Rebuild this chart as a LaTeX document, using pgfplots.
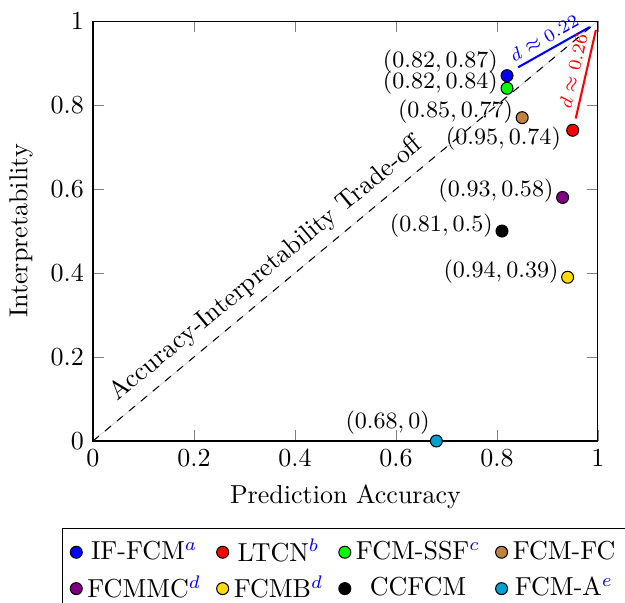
\documentclass[border=0pt]{standalone}
\usepackage{pgfplots}
\pgfplotsset{compat=1.18}
\definecolor{mpurple}{RGB}{128,0,128}
\definecolor{myellow}{RGB}{255,220,0}
\definecolor{mcyan}{RGB}{0,160,210}
\definecolor{mbrown}{RGB}{191,128,64}
\newcommand{\U}{0.3846pt}
\begin{document}
\begin{tikzpicture}
\begin{axis}[
  name=ax,
  scale only axis,
  width=194.2pt, height=161.5pt,
  xmin=0, xmax=1, ymin=0, ymax=1,
  xlabel={Prediction Accuracy},
  ylabel={Interpretability},
  clip=false,
  legend columns=4,
  legend cell align=center,
  legend style={at={(-0.0614,-0.208)}, anchor=north west, draw=black,
    /tikz/every even column/.append style={column sep=4pt}},
  mark size=2.3pt,
]
\addplot[only marks, mark=*, mark options={draw=black, fill=blue}] coordinates {(0.82,0.87)}
  node[left, yshift=5.5pt, font=\small] {$(0.82, 0.87)$};
\addlegendentry{IF-FCM$^{\textcolor{blue}{a}}$}
\addplot[only marks, mark=*, mark options={draw=black, fill=red}] coordinates {(0.95,0.74)}
  node[below left, xshift=-1pt, yshift=5pt, font=\small] {$(0.95, 0.74)$};
\addlegendentry{LTCN$^{\textcolor{blue}{b}}$}
\addplot[only marks, mark=*, mark options={draw=black, fill=green}] coordinates {(0.82,0.84)}
  node[left, yshift=2pt, font=\small] {$(0.82, 0.84)$};
\addlegendentry{FCM-SSF$^{\textcolor{blue}{c}}$}
\addplot[only marks, mark=*, mark options={draw=black, fill=mbrown}] coordinates {(0.85,0.77)}
  node[left, yshift=2.5pt, font=\small] {$(0.85, 0.77)$};
\addlegendentry{FCM-FC}
\addplot[only marks, mark=*, mark options={draw=black, fill=mpurple}] coordinates {(0.93,0.58)}
  node[left, yshift=2.5pt, font=\small] {$(0.93, 0.58)$};
\addlegendentry{FCMMC$^{\textcolor{blue}{d}}$}
\addplot[only marks, mark=*, mark options={draw=black, fill=myellow}] coordinates {(0.94,0.39)}
  node[left, yshift=2pt, font=\small] {$(0.94, 0.39)$};
\addlegendentry{FCMB$^{\textcolor{blue}{d}}$}
\addplot[only marks, mark=*, mark options={draw=black, fill=black}] coordinates {(0.81,0.5)}
  node[left, yshift=2pt, font=\small] {$(0.81, 0.5)$};
\addlegendentry{CCFCM}
\addplot[only marks, mark=*, mark options={draw=black, fill=mcyan}] coordinates {(0.68,0)}
  node[above left, xshift=1pt, yshift=-1pt, font=\small] {$(0.68, 0)$};
\addlegendentry{FCM-A$^{\textcolor{blue}{e}}$}
\addplot[gray!45, very thin, forget plot] coordinates {(0,0) (1,1)};
\addplot[dashed, thin, black, forget plot] coordinates {(0,0) (1,1)}
  node[pos=0.37, sloped, above, font=\normalsize] {Accuracy-Interpretability Trade-off};
\addplot[blue, thick, forget plot] coordinates {(0.842,0.890) (0.984,0.986)}
  node[pos=0.45, sloped, above, inner sep=2pt, font=\scriptsize] {$d \approx 0.22$};
\addplot[red, thick, forget plot] coordinates {(0.956,0.768) (0.996,0.979)}
  node[pos=0.5, sloped, above, inner sep=2pt, font=\scriptsize] {$d \approx 0.26$};
\end{axis}
\pgfresetboundingbox
\path[use as bounding box] ([shift={(-93*\U,-162*\U)}]ax.south west) rectangle ([shift={(532*\U,441*\U)}]ax.south west);
\end{tikzpicture}
\end{document}
